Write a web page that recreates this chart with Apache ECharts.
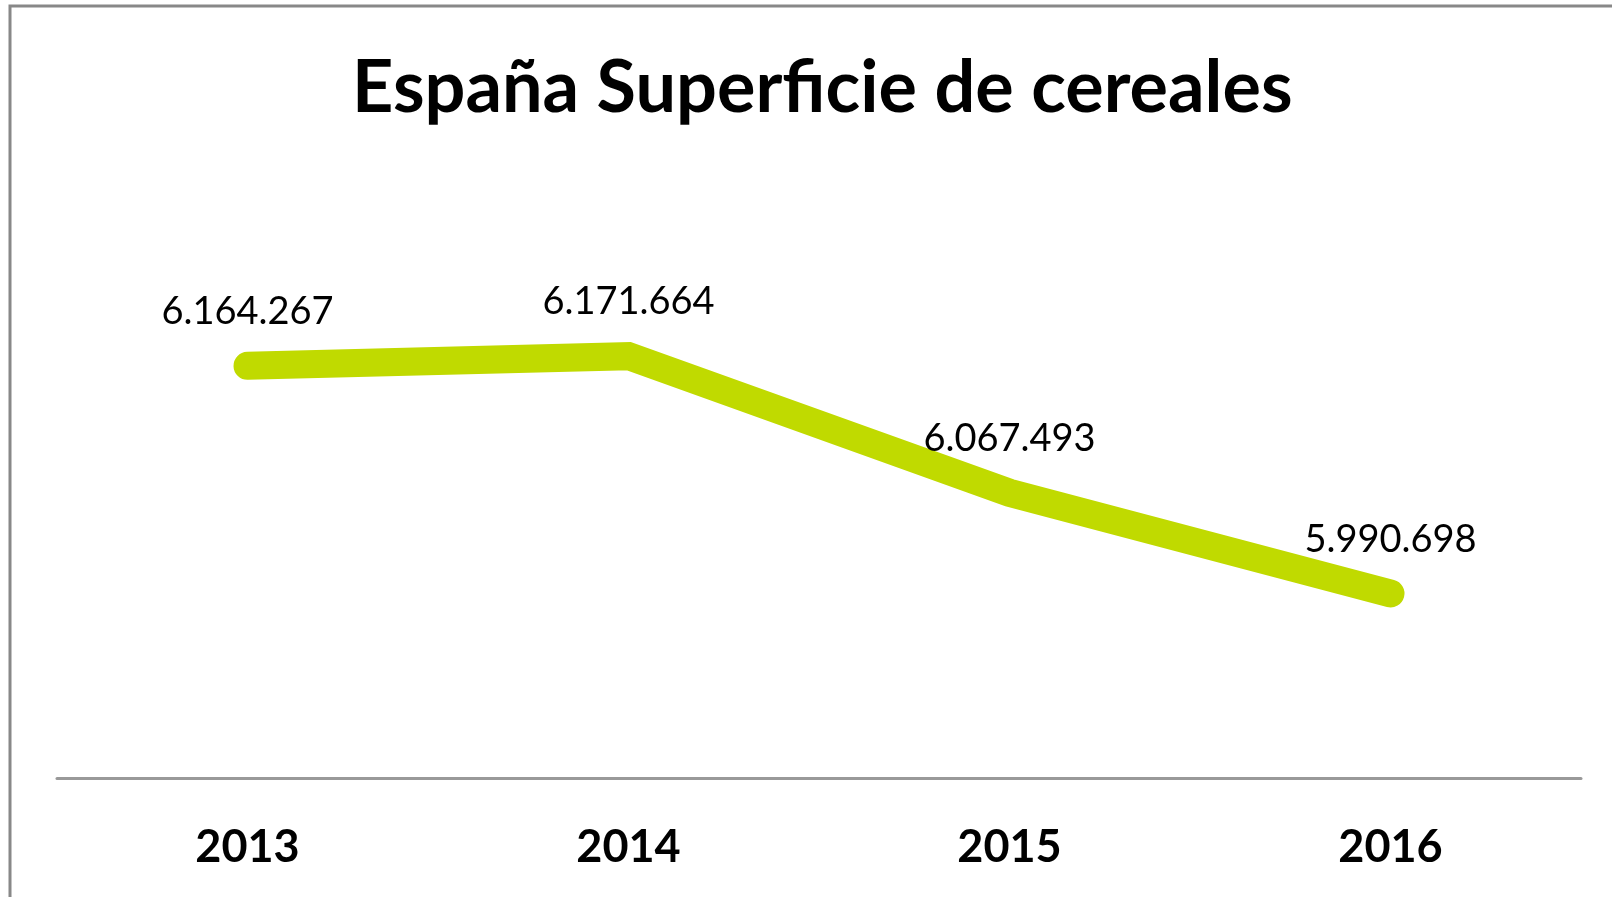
<!DOCTYPE html>
<html>
<head>
<meta charset="utf-8">
<script src="https://cdn.jsdelivr.net/npm/echarts@6/dist/echarts.min.js"></script>
<style>
  html, body { margin: 0; padding: 0; background: #fff; }
  #chart { width: 1612px; height: 897px; }
</style>
</head>
<body>
<div id="chart"></div>
<script>
// Superficie de cereales en España (hectáreas)
const years = ['2013', '2014', '2015', '2016'];
const superficie = [6164267, 6171664, 6067493, 5990698];

const fmt = v => String(v).replace(/\B(?=(\d{3})+(?!\d))/g, '.');

const chart = echarts.init(document.getElementById('chart'));
chart.setOption({
  backgroundColor: '#ffffff',
  animation: false,
  title: {
    text: 'España Superficie de cereales',
    left: 352,
    top: 48,
    padding: 0,
    textStyle: { fontFamily: 'Lato', fontWeight: 'bold', fontSize: 72, color: '#000', lineHeight: 82 }
  },
  graphic: [{
    type: 'rect',
    shape: { x: 10, y: 6, width: 1640, height: 940 },
    style: { fill: 'none', stroke: '#888888', lineWidth: 3 },
    silent: true
  }],
  grid: { left: 57, right: 31, top: 319, bottom: 119 },
  xAxis: {
    type: 'category',
    data: years,
    boundaryGap: true,
    axisLine: { lineStyle: { color: '#999999', width: 3 } },
    axisTick: { show: false },
    axisLabel: { margin: 44, lineHeight: 50, fontFamily: 'Lato', fontWeight: 'bold', fontSize: 45, color: '#000' }
  },
  yAxis: {
    type: 'value',
    min: 5850000,
    max: 6200000,
    show: false,
    splitLine: { show: false }
  },
  series: [{
    type: 'line',
    data: superficie,
    symbol: 'circle',
    symbolSize: 2,
    itemStyle: { color: '#c0da00' },
    lineStyle: { color: '#c0da00', width: 28, cap: 'round', join: 'miter' },
    label: {
      show: true,
      position: 'top',
      distance: 33,
      lineHeight: 40,
      fontFamily: 'Lato',
      fontSize: 38,
      color: '#000',
      formatter: p => fmt(p.value)
    }
  }]
});
</script>
</body>
</html>
